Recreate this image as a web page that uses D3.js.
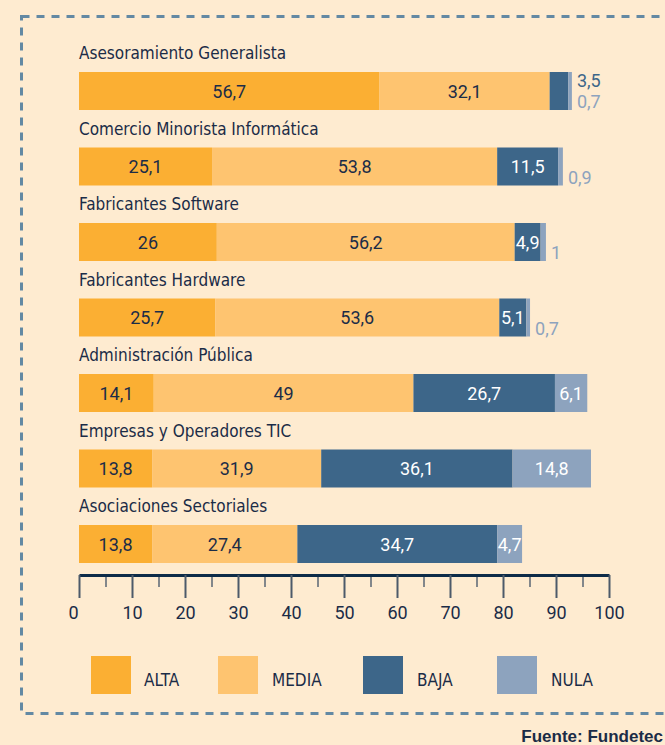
<!DOCTYPE html>
<html lang="es">
<head>
<meta charset="utf-8">
<title>Demanda por tipo de agente</title>
<script src="https://cdn.jsdelivr.net/npm/d3@7"></script>
<style>
  body { margin: 0; background: #feebd0; }
  svg { display: block; }
</style>
</head>
<body>
<script>

// categories and series (bar lengths as drawn)
var categories = ["Asesoramiento Generalista", "Comercio Minorista Informática", "Fabricantes Software",
                  "Fabricantes Hardware", "Administración Pública", "Empresas y Operadores TIC",
                  "Asociaciones Sectoriales"];
var alta  = [56.7, 25.1, 26, 25.7, 14.1, 13.8, 13.8];
var media = [32.1, 53.8, 56.2, 53.6, 49, 31.9, 27.4];
var baja  = [3.5, 11.5, 4.9, 5.1, 26.7, 36.1, 37.7];
var nula  = [0.7, 0.9, 1, 0.7, 6.1, 14.8, 4.7];
// printed labels
var altaText  = ["56,7", "25,1", "26", "25,7", "14,1", "13,8", "13,8"];
var mediaText = ["32,1", "53,8", "56,2", "53,6", "49", "31,9", "27,4"];
var bajaText  = ["3,5", "11,5", "4,9", "5,1", "26,7", "36,1", "34,7"];
var nulaText  = ["0,7", "0,9", "1", "0,7", "6,1", "14,8", "4,7"];
var seriesNames = ["ALTA", "MEDIA", "BAJA", "NULA"];
var tickValues = [0, 10, 20, 30, 40, 50, 60, 70, 80, 90, 100];

var w = 665, h = 745;
var colors = ["#fbaf33", "#fec470", "#3d6689", "#8da3be"];
var dark = "#1b2c47";
var numFont = "Roboto, 'Liberation Sans', sans-serif";
var catFont = "'Liberation Sans Narrow', 'DejaVu Sans Condensed', sans-serif";

var svg = d3.select("body").append("svg").attr("width", w).attr("height", h);

// dashed frame
svg.append("rect")
  .attr("x", 21.5).attr("y", 16.5).attr("width", 670).attr("height", 697)
  .attr("fill", "none").attr("stroke", "#6389a3").attr("stroke-width", 3)
  .attr("stroke-dasharray", "8,7");

var x = d3.scaleLinear().domain([0, 100]).range([79, 609]);
var y = d3.scaleBand().domain(categories).range([47, 47 + 7 * 75.5]);

var values = [alta, media, baja, nula];
var texts = [altaText, mediaText, bajaText, nulaText];
var stack = d3.stack().keys([0, 1, 2, 3]).value(function(d, k) { return values[k][d]; });
var stacked = stack(d3.range(categories.length));

// category labels
svg.selectAll("text.cat")
  .data(categories)
  .enter().append("text")
  .attr("class", "cat")
  .attr("x", 79)
  .attr("y", function(d) { return y(d) + 12; })
  .attr("font-family", catFont)
  .attr("font-size", "17px")
  .attr("fill", dark)
  .text(function(d) { return d; });

var barTop = 25, barH = 38;

var layers = svg.selectAll("g.layer")
  .data(stacked)
  .enter().append("g")
  .attr("class", "layer")
  .attr("fill", function(d, i) { return colors[i]; });

layers.selectAll("rect")
  .data(function(d) { return d; })
  .enter().append("rect")
  .attr("x", function(d) { return x(d[0]); })
  .attr("y", function(d) { return y(categories[d.data]) + barTop; })
  .attr("width", function(d) { return x(d[1]) - x(d[0]); })
  .attr("height", barH);

// value labels
stacked.forEach(function(layer, k) {
  layer.forEach(function(d) {
    var i = d.data;
    var wSeg = x(d[1]) - x(d[0]);
    var top = y(categories[i]) + barTop;
    var t = svg.append("text")
      .attr("font-family", numFont)
      .attr("font-size", "18px")
      .text(texts[k][i]);
    if (wSeg >= 22) {
      t.attr("x", (x(d[0]) + x(d[1])) / 2)
       .attr("y", top + barH / 2 + 6.5)
       .attr("text-anchor", "middle")
       .attr("fill", k < 2 ? dark : "#ffffff");
    } else {
      var end = x(d3.sum(values, function(s) { return s[i]; }));
      t.attr("x", end + 5)
       .attr("y", k === 2 ? top + 15 : top + barH - 2)
       .attr("fill", k === 2 ? colors[2] : colors[3]);
    }
  });
});

// axis
var axisY = 575;
svg.append("g")
  .attr("transform", "translate(0," + axisY + ")")
  .call(d3.axisBottom(x).tickValues(d3.range(5, 100, 10)).tickSize(12).tickSizeOuter(0).tickFormat(""))
  .call(function(g) {
    g.select(".domain").remove();
    g.selectAll("line").attr("stroke", "#5a6674").attr("stroke-width", 1.5);
  });

var axis = svg.append("g")
  .attr("transform", "translate(0," + axisY + ")")
  .call(d3.axisBottom(x).tickValues(tickValues).tickSize(23).tickSizeOuter(0).tickPadding(8).tickFormat(d3.format("d")));
axis.select(".domain").attr("stroke", "#0d2b48").attr("stroke-width", 3);
axis.selectAll("line").attr("stroke", "#4d5a6a").attr("stroke-width", 2);
axis.selectAll("text")
  .attr("font-family", numFont)
  .attr("font-size", "18px")
  .attr("fill", dark);
axis.selectAll(".tick").filter(function(d) { return d === 0; }).select("text").attr("dx", -6);

// legend
var legendX = [91, 218, 363, 497];
var legend = svg.selectAll("g.legend")
  .data(seriesNames)
  .enter().append("g")
  .attr("class", "legend")
  .attr("transform", function(d, i) { return "translate(" + legendX[i] + ",656)"; });
legend.append("rect")
  .attr("width", 40).attr("height", 38)
  .attr("fill", function(d, i) { return colors[i]; });
legend.append("text")
  .attr("x", function(d, i) { return i === 0 ? 53 : 54; })
  .attr("y", 30)
  .attr("font-family", catFont)
  .attr("font-size", "17px")
  .attr("fill", dark)
  .text(function(d) { return d; });

// source
svg.append("text")
  .attr("x", 663).attr("y", 742)
  .attr("text-anchor", "end")
  .attr("font-family", "'Liberation Sans', Arial, sans-serif")
  .attr("font-weight", "bold")
  .attr("font-size", "17px")
  .attr("fill", dark)
  .text("Fuente: Fundetec");

</script>
</body>
</html>
